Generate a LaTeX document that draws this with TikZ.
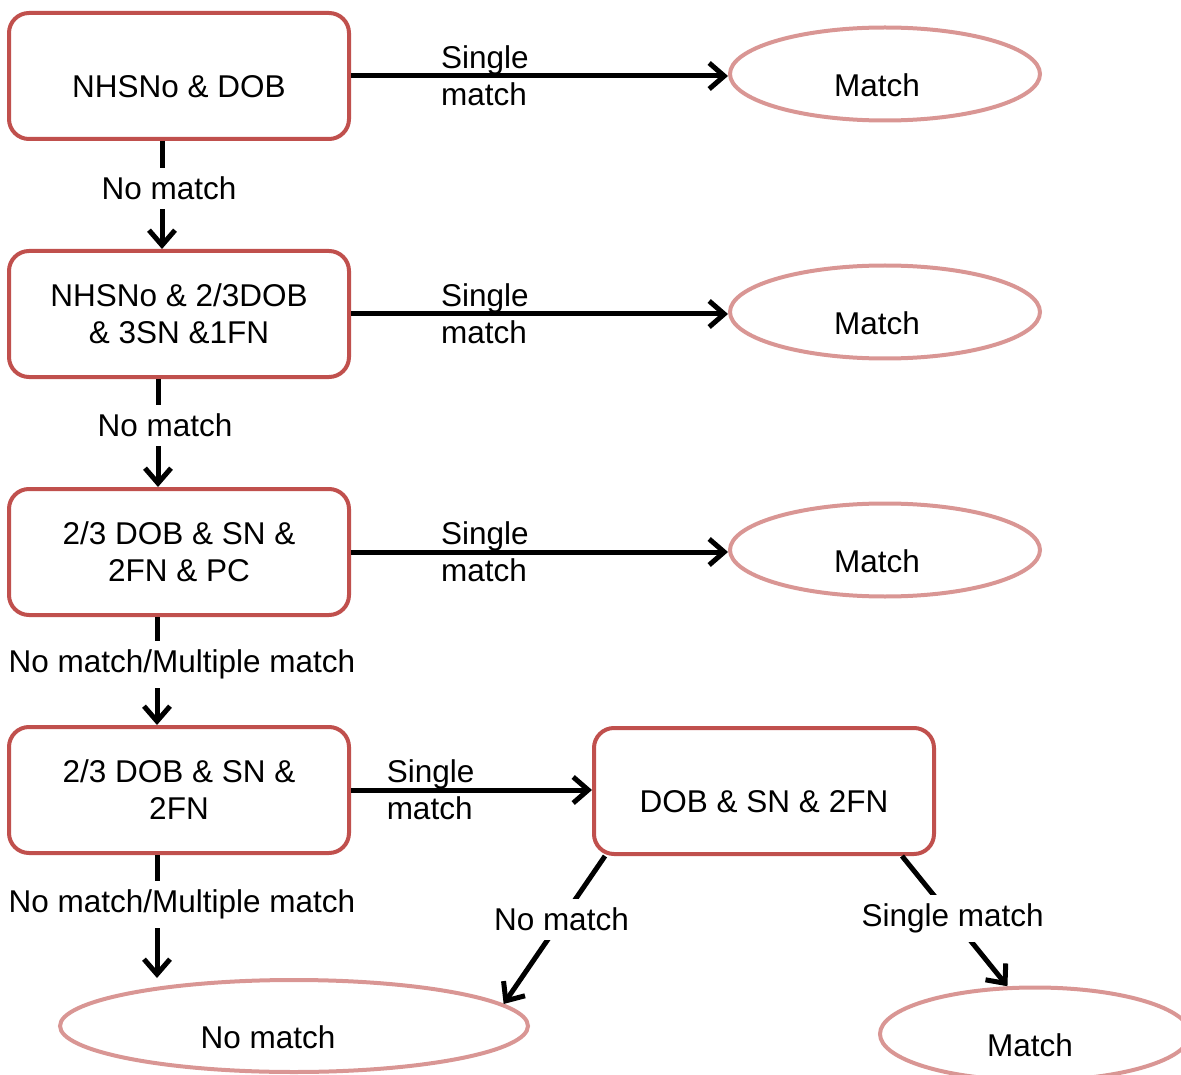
\documentclass[tikz,border=0pt]{standalone}
\usepackage{fontspec}
\setmainfont{Liberation Sans}
\usetikzlibrary{positioning,shapes.geometric,arrows.meta}
\definecolor{boxred}{HTML}{C0504D}
\definecolor{ovalpink}{HTML}{D99694}
\newcommand{\low}[1]{\raisebox{-11pt}[\height][\depth]{#1}}
\tikzset{box/.style={draw=boxred, line width=4pt, rounded corners=20pt, minimum width=340pt, minimum height=126pt, align=center, inner sep=0pt}}
\tikzset{oval/.style={ellipse, draw=ovalpink, line width=4pt, minimum width=310pt, minimum height=93pt, inner sep=0pt}}
\tikzset{arr/.style={line width=5pt, -{Straight Barb[length=15pt, width=26pt]}}}
\tikzset{lbl/.style={fill=white, inner xsep=2pt, inner ysep=9pt}}

\begin{document}
\begin{tikzpicture}[x=1pt, y=-1pt, node distance={238pt}, font=\fontsize{31.5}{37}\selectfont]
    \clip (0,0) rectangle (1181,1075);

    \node[box] (0) at (179,76) {\low{NHSNo \& DOB}};
    \node[box] (1) [below of=0] {NHSNo \& 2/3DOB\\ \& 3SN \&1FN};
    \node[box] (2) [below of=1] {2/3 DOB \& SN \&\\ 2FN \& PC};
    \node[box] (3) [below of=2] {2/3 DOB \& SN \&\\ 2FN};
    \node[box] (4) at (764,791) {\low{DOB \& SN \& 2FN}};

    \node[oval] (5) at (885,74) {\low{Match}\hspace*{16pt}};
    \node[oval] (6) [below of=5] {\low{Match}\hspace*{16pt}};
    \node[oval] (7) [below of=6] {\low{Match}\hspace*{16pt}};
    \node[oval, minimum width=468pt, minimum height=92pt] (8) at (294,1026) {\low{No match}\hspace*{52pt}};
    \node[oval] (9) at (1035,1034) {\low{Match}\hspace*{10pt}};

    \draw[arr] (0.east) -- (0.east -| 5.west) node[pos=.355, align=left] {Single\\match};
    \draw[arr] (1.east) -- (1.east -| 6.west) node[pos=.355, align=left] {Single\\match};
    \draw[arr] (2.east) -- (2.east -| 7.west) node[pos=.355, align=left] {Single\\match};
    \draw[arr] (3.east) -- (3.east -| 4.west) node[pos=.33, align=left] {Single\\match};

    \draw[arr] ([xshift=-17pt]0.south) -- ([xshift=-17pt]1.north) node[lbl, pos=.44, xshift=7pt] {No match};
    \draw[arr] ([xshift=-21pt]1.south) -- ([xshift=-21pt]2.north) node[lbl, pos=.43, xshift=7pt] {No match};
    \draw[arr] ([xshift=-22pt]2.south) -- ([xshift=-22pt]3.north) node[lbl, pos=.44, xshift=25pt] {No match/Multiple match};
    \coordinate (c) at ([xshift=-22pt]3.south);
    \draw[arr] (c) -- (c |- 8.north) node[lbl, pos=.4, xshift=25pt] {No match/Multiple match};

    \draw[arr] ([xshift=13pt]4.south west) -- (8.6) node[lbl, pos=.43] {No match};
    \draw[arr] ([xshift=-34pt]4.south east) -- (9.120) node[lbl, pos=.48] {Single match};
\end{tikzpicture}
\end{document}
